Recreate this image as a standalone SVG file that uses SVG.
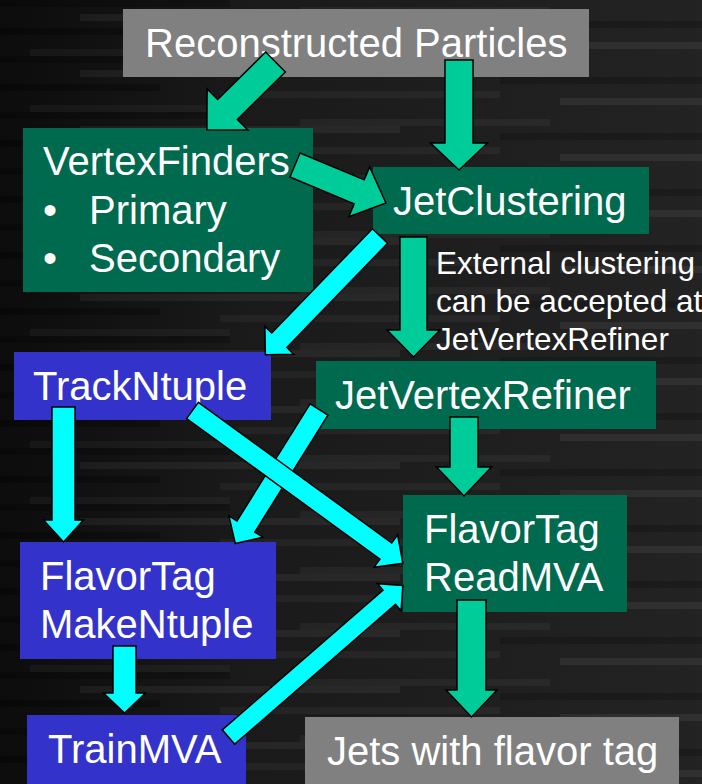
<svg xmlns="http://www.w3.org/2000/svg" width="702" height="784" viewBox="0 0 702 784">
<defs>
<linearGradient id="bg" x1="0" y1="0" x2="1" y2="0">
<stop offset="0" stop-color="#0c0c0c"/>
<stop offset="0.35" stop-color="#1a1a1a"/>
<stop offset="1" stop-color="#232323"/>
</linearGradient>
<pattern id="stripes" x="0" y="0" width="702" height="56" patternUnits="userSpaceOnUse">
<rect x="0" y="0" width="230" height="7" fill="#000" opacity="0.25"/>
<rect x="300" y="7" width="250" height="7" fill="#fff" opacity="0.04"/>
<rect x="80" y="14" width="320" height="7" fill="#fff" opacity="0.05"/>
<rect x="500" y="21" width="202" height="7" fill="#000" opacity="0.2"/>
<rect x="0" y="28" width="160" height="7" fill="#000" opacity="0.3"/>
<rect x="220" y="35" width="280" height="7" fill="#fff" opacity="0.04"/>
<rect x="560" y="42" width="142" height="7" fill="#fff" opacity="0.06"/>
<rect x="30" y="49" width="200" height="7" fill="#fff" opacity="0.035"/>
</pattern>
<style>
.gray{fill:#808080}
.green{fill:#006A4E}
.blue{fill:#3333CC}
.t{font-family:"Liberation Sans",Arial,sans-serif;font-size:40px;fill:#fff}
.s{font-family:"Liberation Sans",Arial,sans-serif;font-size:31.5px;fill:#fff}
.ga{fill:#00CC99;stroke:#000;stroke-width:1.5;stroke-linejoin:miter}
.ca{fill:#00FFFF;stroke:#000;stroke-width:1.5;stroke-linejoin:miter}
</style>
</defs>
<rect width="702" height="784" fill="url(#bg)"/>
<rect width="702" height="784" fill="url(#stripes)"/>

<g id="reconstructed">
<rect class="gray" x="123" y="9" width="466" height="68"/>
<text class="t" x="145" y="57">Reconstructed Particles</text>
</g>
<g id="vertexfinders">
<rect class="green" x="23" y="128" width="290" height="164"/>
<text class="t" x="43" y="175">VertexFinders</text>
<text class="t" x="43" y="224">•</text>
<text class="t" x="89" y="224">Primary</text>
<text class="t" x="43" y="272">•</text>
<text class="t" x="89" y="272">Secondary</text>
</g>
<g id="jetclustering">
<rect class="green" x="373" y="167" width="276" height="67"/>
<text class="t" x="393" y="215">JetClustering</text>
</g>
<g id="note">
<text class="s" x="436" y="274">External clustering</text>
<text class="s" x="436" y="312">can be accepted at</text>
<text class="s" x="436" y="350">JetVertexRefiner</text>
</g>
<g id="tracknuple">
<rect class="blue" x="14" y="352" width="257" height="68"/>
<text class="t" x="33" y="400">TrackNtuple</text>
</g>
<g id="jetvertexrefiner">
<rect class="green" x="316" y="361" width="340" height="68"/>
<text class="t" x="335" y="409">JetVertexRefiner</text>
</g>
<g id="readmva">
<rect class="green" x="403" y="495" width="224" height="117"/>
<text class="t" x="424" y="543">FlavorTag</text>
<text class="t" x="424" y="591">ReadMVA</text>
</g>
<g id="makentuple">
<rect class="blue" x="20" y="542" width="256" height="117"/>
<text class="t" x="40" y="590">FlavorTag</text>
<text class="t" x="40" y="638">MakeNtuple</text>
</g>
<g id="trainmva">
<rect class="blue" x="27" y="715" width="219" height="69"/>
<text class="t" x="48" y="763">TrainMVA</text>
</g>
<g id="jets">
<rect class="gray" x="305" y="717" width="374" height="67"/>
<text class="t" x="327" y="765">Jets with flavor tag</text>
</g>

<g id="connectors">
<polygon class="ga" transform="translate(275.5,62) rotate(135.3)" points="0,-14 67.5,-14 67.5,-29 96.5,0 67.5,29 67.5,14 0,14"/>
<polygon class="ga" transform="translate(459,60) rotate(90)" points="0,-14 83,-14 83,-28.5 110,0 83,28.5 83,14 0,14"/>
<polygon class="ga" transform="translate(295,165) rotate(22.7)" points="0,-13 69.6,-13 69.6,-27 98.6,0 69.6,27 69.6,13 0,13"/>
<polygon class="ca" transform="translate(380,236) rotate(134)" points="0,-10.5 145,-10.5 145,-20 165,0 145,20 145,10.5 0,10.5"/>
<polygon class="ga" transform="translate(413.5,237) rotate(90)" points="0,-13.5 93,-13.5 93,-26.5 120,0 93,26.5 93,13.5 0,13.5"/>
<polygon class="ca" transform="translate(63.5,407) rotate(90)" points="0,-11.5 113,-11.5 113,-20 135,0 113,20 113,11.5 0,11.5"/>
<polygon class="ca" transform="translate(319,409.5) rotate(122)" points="0,-10.5 138,-10.5 138,-20 158,0 138,20 138,10.5 0,10.5"/>
<polygon class="ca" transform="translate(192.5,410.5) rotate(36)" points="0,-10 239,-10 239,-20 260,0 239,20 239,10 0,10"/>
<polygon class="ga" transform="translate(464,417) rotate(90)" points="0,-14 50,-14 50,-27.5 79,0 50,27.5 50,14 0,14"/>
<polygon class="ca" transform="translate(124.5,646) rotate(90)" points="0,-11.5 47,-11.5 47,-21 67,0 47,21 47,11.5 0,11.5"/>
<polygon class="ca" transform="translate(228.5,737) rotate(-41)" points="0,-9.5 213,-9.5 213,-18 231,0 213,18 213,9.5 0,9.5"/>
<polygon class="ga" transform="translate(471.5,600) rotate(90)" points="0,-14.5 90,-14.5 90,-25.5 117,0 90,25.5 90,14.5 0,14.5"/>
</g>
</svg>
